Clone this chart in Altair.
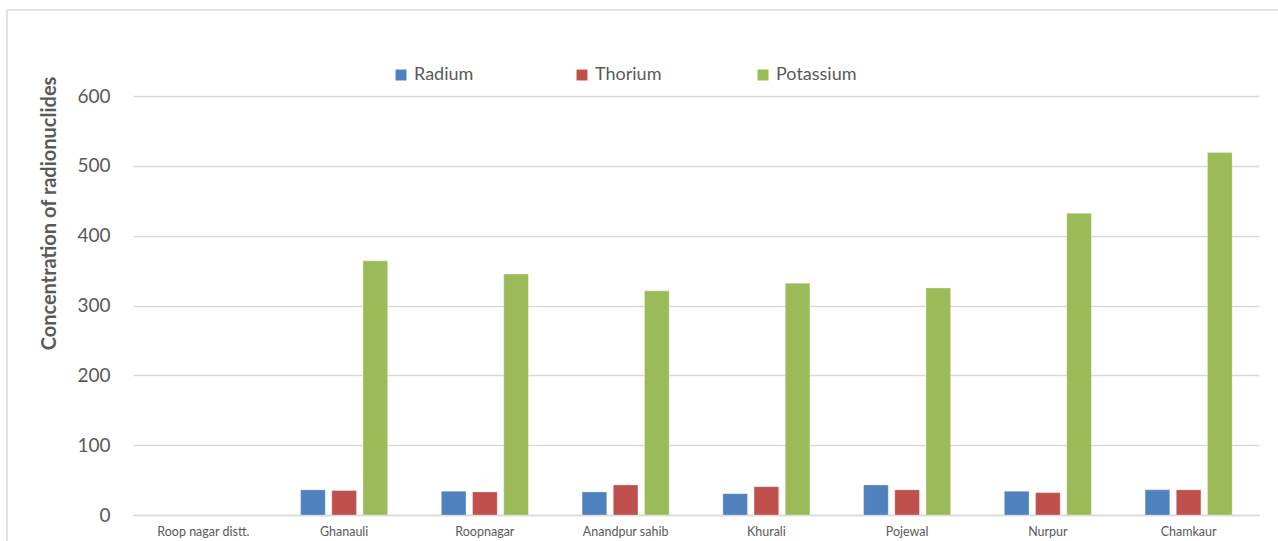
import altair as alt
import pandas as pd

# Sampling sites (the district row has no measured values)
sites = ["Roop nagar distt.", "Ghanauli", "Roopnagar", "Anandpur sahib",
         "Khurali", "Pojewal", "Nurpur", "Chamkaur"]
measured_sites = sites[1:]

nuclides = ["Radium", "Thorium", "Potassium"]
colors = ["#4F81BD", "#C0504D", "#9BBB59"]

radium = [36, 34, 33, 30.5, 43, 34, 36]
thorium = [35, 33, 43, 40.5, 36, 32, 36]
potassium = [364, 345, 321, 332, 325, 432, 519]

rows = []
for name, series in zip(nuclides, [radium, thorium, potassium]):
    for site, v in zip(measured_sites, series):
        rows.append({"site": site, "nuclide": name, "value": v})
df = pd.DataFrame(rows)

FONT = "Lato"
GREY = "#595959"
GRID = "#d9d9d9"

bars = alt.Chart(df).mark_bar(stroke="#ffffff", strokeOpacity=0.35, strokeWidth=0.8).encode(
    x=alt.X("site:N", sort=sites,
            scale=alt.Scale(domain=sites, paddingInner=0.335, paddingOuter=0.1675),
            axis=alt.Axis(title=None, labelAngle=0, labelFontSize=12.5, labelColor=GREY,
                          labelFont=FONT, labelPadding=10, ticks=False, domain=True,
                          domainColor=GRID, domainWidth=1.5, grid=False)),
    xOffset=alt.XOffset("nuclide:N", sort=nuclides,
                        scale=alt.Scale(domain=nuclides, paddingInner=0.21, paddingOuter=0.105)),
    y=alt.Y("value:Q",
            scale=alt.Scale(domain=[0, 600], nice=False),
            axis=alt.Axis(title="Concentration of radionuclides", values=[0, 100, 200, 300, 400, 500, 600],
                          labelFontSize=19, labelColor=GREY, labelFont=FONT, labelPadding=23,
                          ticks=False, domain=False, gridColor=GRID, gridWidth=1.5,
                          titleFont=FONT, titleFontSize=20, titleFontWeight="bold", titleColor=GREY,
                          titleAngle=-90, titleX=-84, titleY=117, titleAlign="center",
                          titleBaseline="middle")),
    color=alt.Color("nuclide:N", sort=nuclides,
                    scale=alt.Scale(domain=nuclides, range=colors),
                    legend=alt.Legend(title=None, orient="none", direction="horizontal",
                                      legendX=259, legendY=-30, symbolType="square",
                                      symbolSize=120, symbolStrokeWidth=0,
                                      labelFontSize=18, labelColor=GREY, labelFont=FONT,
                                      labelOffset=4, columnPadding=78, gridAlign="all")),
)

# Light frame around the chart
frame = alt.Data(values=[{}])
left_edge = alt.Chart(frame).mark_rule(color=GRID, strokeWidth=1.5).encode(
    x=alt.value(-126), y=alt.value(-86), y2=alt.value(460))
top_edge = alt.Chart(frame).mark_rule(color=GRID, strokeWidth=1.5).encode(
    x=alt.value(-126), x2=alt.value(1160), y=alt.value(-86))

chart = alt.layer(bars, left_edge, top_edge).properties(
    width=1126, height=419,
    padding={"left": 133, "top": 96, "right": 19, "bottom": 26},
    autosize=alt.AutoSizeParams(type="none"),
    background="white",
).configure_view(stroke=None)

chart.save("out.html", embed_options={"renderer": "svg", "actions": False})
